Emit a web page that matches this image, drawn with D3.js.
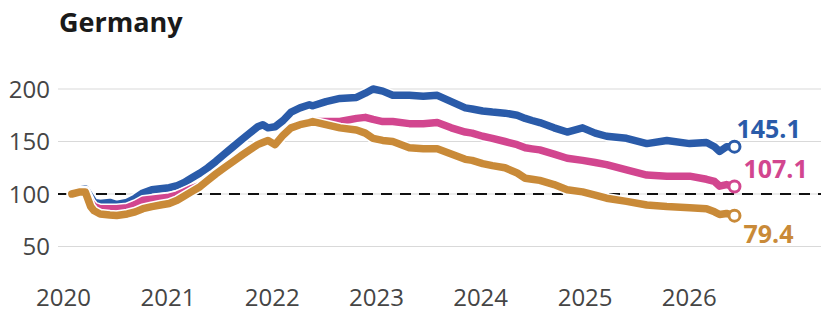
<!DOCTYPE html>
<html>
<head>
<meta charset="utf-8">
<script src="https://cdn.jsdelivr.net/npm/d3@7"></script>
<style>
  html, body { margin: 0; padding: 0; background: #fff; }
  svg { display: block; font-family: "Open Sans", "Noto Sans", sans-serif; }
</style>
</head>
<body>
<svg id="chart" width="821" height="312"></svg>
<script>
const title = "Germany";
const yTicks = [50, 100, 150, 200];
const xTickYears = [2020, 2021, 2022, 2023, 2024, 2025, 2026];
const dates = [
  "2020-02-01","2020-03-01","2020-03-19","2020-04-07","2020-04-19","2020-05-10","2020-06-13","2020-07-07",
  "2020-08-13","2020-09-10","2020-10-07","2020-11-07","2020-12-07","2021-01-07","2021-02-04","2021-03-01",
  "2021-03-25","2021-04-25","2021-05-22","2021-06-19","2021-07-19","2021-08-19","2021-09-19","2021-10-16",
  "2021-11-13","2021-12-01","2021-12-19","2022-01-13","2022-02-10","2022-03-10","2022-04-10","2022-05-13",
  "2022-05-25","2022-07-10","2022-08-28","2022-10-25","2022-11-25","2022-12-22","2023-01-25","2023-03-01",
  "2023-04-28","2023-06-16","2023-08-04","2023-09-22","2023-11-10","2023-12-04","2024-01-10","2024-02-13",
  "2024-03-28","2024-05-10","2024-06-07","2024-07-01","2024-07-28","2024-09-16","2024-11-01","2024-12-25",
  "2025-02-07","2025-03-19","2025-05-28","2025-08-07","2025-10-16","2026-01-04","2026-03-04","2026-04-01",
  "2026-04-19","2026-05-13","2026-06-10"
];
const blueValues = [
  100,104,105,97,92,91,92,90,
  92,96,101,104,105,106,108,111,
  115,120,125,131,138,145,152,158,
  164,166,163,164,170,178,182,185,
  184,188,191,192,196,200,198,194,
  194,193,194,188,182,181,179,178,
  177,175,172,170,168,163,159,163,
  158,155,153,148,151,148,149,145,
  140.5,145,145.1
];
const pinkValues = [
  100,103,103,92,88,86,86,86,
  87,90,94,95,96,97,99,102,
  105,108,113,119,125,131,137,142,
  147,149,151,147,156,163,166,168,
  169,169,169,172,173,171,169,169,
  167,167,168,163,159,158,155,153,
  150,147,144,143,142,138,134,132,
  130,128,123,118,117,117,114,112,
  107.5,109,107.1
];
const goldValues = [
  100,102,102,88,84,81,80,79.5,
  81,83,86,88,89.5,91,94,98,
  102,107,113,119,125,131,137,142,
  147,149,151,147,156,163,166,168,
  169,166,163,161,158,153,151,150,
  144,143,143,138,133,132,129,127,
  125,120,115,114,113,109,104,102,
  99,96,93,89.5,88,87,86,83,
  80.5,81.5,79.4
];
const seriesNames = ["blue", "pink", "gold"];
const seriesColors = ["#2a5ba9", "#d2468f", "#c98a38"];
const endLabels = ["145.1", "107.1", "79.4"];

const svg = d3.select("#chart");
const parse = d3.timeParse("%Y-%m-%d");
const x = d3.scaleTime()
  .domain([new Date(2020, 0, 1), new Date(2027, 0, 1)])
  .range([63, 793]);
const y = d3.scaleLinear().domain([50, 200]).range([246.5, 89]);

// title
svg.append("text")
  .attr("x", 59).attr("y", 32)
  .attr("font-size", 27).attr("font-weight", 700)
  .attr("fill", "#1a1a1a")
  .text(title);

// gridlines
const gridG = svg.append("g");
gridG.selectAll("line").data(yTicks).join("line")
  .attr("x1", 58).attr("x2", 821)
  .attr("y1", d => y(d)).attr("y2", d => y(d))
  .attr("stroke", "#d9d9d9").attr("stroke-width", 1.2);

// y-axis labels
const yAxis = d3.axisLeft(y).tickValues(yTicks).tickSize(0).tickPadding(0);
const yG = svg.append("g").attr("transform", "translate(50,0)").call(yAxis);
yG.select(".domain").remove();
yG.selectAll("text").attr("font-size", 24).attr("fill", "#454545")
  .attr("font-family", "'Open Sans', sans-serif").attr("dy", "0.35em");

// x-axis labels
const xAxis = d3.axisBottom(x)
  .tickValues(xTickYears.map(yr => new Date(yr, 0, 1)))
  .tickFormat(d3.timeFormat("%Y")).tickSize(0).tickPadding(0);
const xG = svg.append("g").attr("transform", "translate(0,289)").call(xAxis);
xG.select(".domain").remove();
xG.selectAll("text").attr("font-size", 24).attr("fill", "#454545")
  .attr("font-family", "'Open Sans', sans-serif");

// reference line at 100
svg.append("line")
  .attr("x1", 58).attr("x2", 821)
  .attr("y1", y(100)).attr("y2", y(100))
  .attr("stroke", "#111").attr("stroke-width", 2)
  .attr("stroke-dasharray", "11,8");

const allValues = [blueValues, pinkValues, goldValues];
const line = d3.line()
  .x(d => x(d.date)).y(d => y(d.v))
  .curve(d3.curveLinear);

const series = allValues.map((vals, i) => ({
  name: seriesNames[i], color: seriesColors[i], label: endLabels[i],
  pts: vals.map((v, j) => ({ date: parse(dates[j]), v }))
}));

series.forEach(s => {
  const g = svg.append("g");
  g.append("path").datum(s.pts).attr("d", line)
    .attr("fill", "none").attr("stroke", "#fff").attr("stroke-width", 10.5)
    .attr("stroke-linejoin", "round").attr("stroke-linecap", "round");
  g.append("path").datum(s.pts).attr("d", line)
    .attr("fill", "none").attr("stroke", s.color).attr("stroke-width", 7.5)
    .attr("stroke-linejoin", "round").attr("stroke-linecap", "round");
});

const labelOffsets = [[2, -9], [9, -9], [9, 27]];
series.forEach((s, i) => {
  const last = s.pts[s.pts.length - 1];
  svg.append("circle")
    .attr("cx", x(last.date)).attr("cy", y(last.v)).attr("r", 5.5)
    .attr("fill", "#fff").attr("stroke", s.color).attr("stroke-width", 3);
  svg.append("text")
    .attr("x", x(last.date) + labelOffsets[i][0])
    .attr("y", y(last.v) + labelOffsets[i][1])
    .attr("font-size", 25).attr("font-weight", 700)
    .attr("fill", s.color)
    .text(s.label);
});
</script>
</body>
</html>
